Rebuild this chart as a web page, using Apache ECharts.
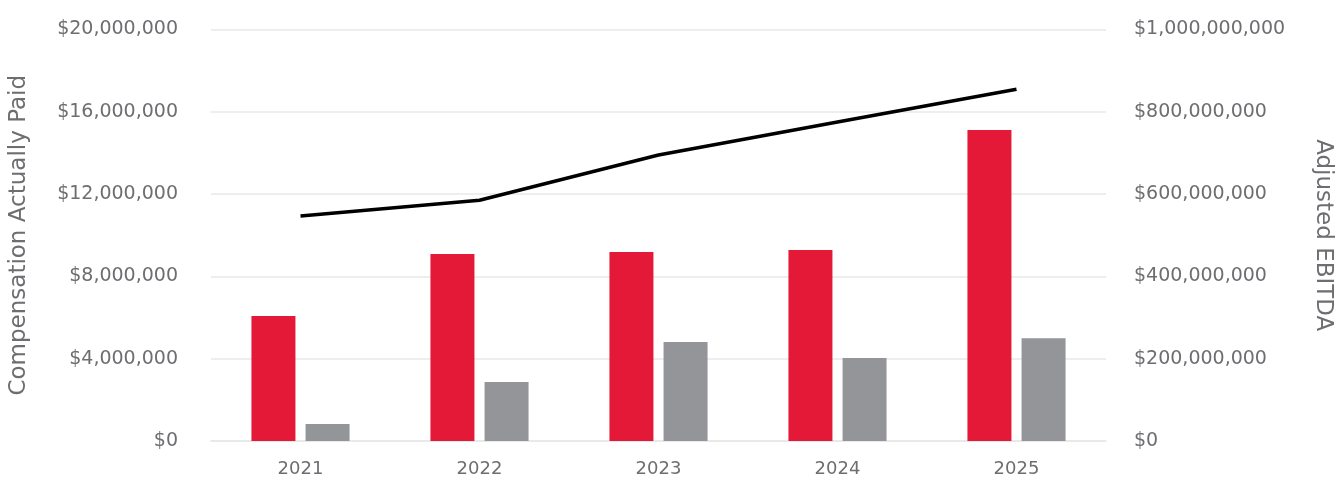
<!DOCTYPE html>
<html>
<head>
<meta charset="utf-8">
<script src="https://cdn.jsdelivr.net/npm/echarts@6/dist/echarts.min.js"></script>
<style>html,body{margin:0;padding:0;background:#fff}#c{width:1344px;height:480px}</style>
</head>
<body>
<div id="c"></div>
<script>
const years = ['2021', '2022', '2023', '2024', '2025'];
const capPeo = [6070000, 9090000, 9180000, 9280000, 15110000];
const capNeo = [830000, 2870000, 4810000, 4030000, 5000000];
const adjustedEbitda = [547000000, 585000000, 695000000, 775000000, 855000000];
const leftTicks = { min: 0, max: 20000000, interval: 4000000 };
const rightTicks = { min: 0, max: 1000000000, interval: 200000000 };

function money(v) { return '$' + Number(v).toLocaleString('en-US'); }
const textColor = '#6d6e71';
const font = 'DejaVu Sans';

const chart = echarts.init(document.getElementById('c'));
chart.setOption({
  animation: false,
  grid: { left: 210, right: 238, top: 29.5, bottom: 39 },
  xAxis: {
    type: 'category',
    data: years,
    axisLine: { show: true, lineStyle: { color: '#e8e8e8', width: 1.5 } },
    axisTick: { show: false },
    axisLabel: { color: textColor, fontFamily: font, fontSize: 18, margin: 19 }
  },
  yAxis: [
    {
      type: 'value',
      min: leftTicks.min, max: leftTicks.max, interval: leftTicks.interval,
      name: 'Compensation Actually Paid',
      nameLocation: 'middle',
      nameGap: 180,
      nameTextStyle: { color: textColor, fontFamily: font, fontSize: 23 },
      axisLine: { show: false },
      axisTick: { show: false },
      axisLabel: { color: textColor, fontFamily: font, fontSize: 19, margin: 33, formatter: money },
      splitLine: { lineStyle: { color: '#e8e8e8', width: 1.5 } }
    },
    {
      type: 'value',
      position: 'right',
      min: rightTicks.min, max: rightTicks.max, interval: rightTicks.interval,
      name: 'Adjusted EBITDA',
      nameLocation: 'middle',
      nameRotate: -90,
      nameGap: 205,
      nameTextStyle: { color: textColor, fontFamily: font, fontSize: 23 },
      axisLine: { show: false },
      axisTick: { show: false },
      axisLabel: { color: textColor, fontFamily: font, fontSize: 19, margin: 28, formatter: money },
      splitLine: { show: false }
    }
  ],
  series: [
    {
      name: 'CAP PEO', type: 'bar', data: capPeo, yAxisIndex: 0,
      barWidth: 44, barGap: '23%',
      itemStyle: { color: '#e31937' }
    },
    {
      name: 'CAP NEO', type: 'bar', data: capNeo, yAxisIndex: 0,
      barWidth: 44, barGap: '23%',
      itemStyle: { color: '#939598' }
    },
    {
      name: 'Adjusted EBITDA', type: 'line', data: adjustedEbitda, yAxisIndex: 1,
      showSymbol: false, symbol: 'none',
      lineStyle: { color: '#000', width: 3.5 }, z: 5
    }
  ]
});
</script>
</body>
</html>
